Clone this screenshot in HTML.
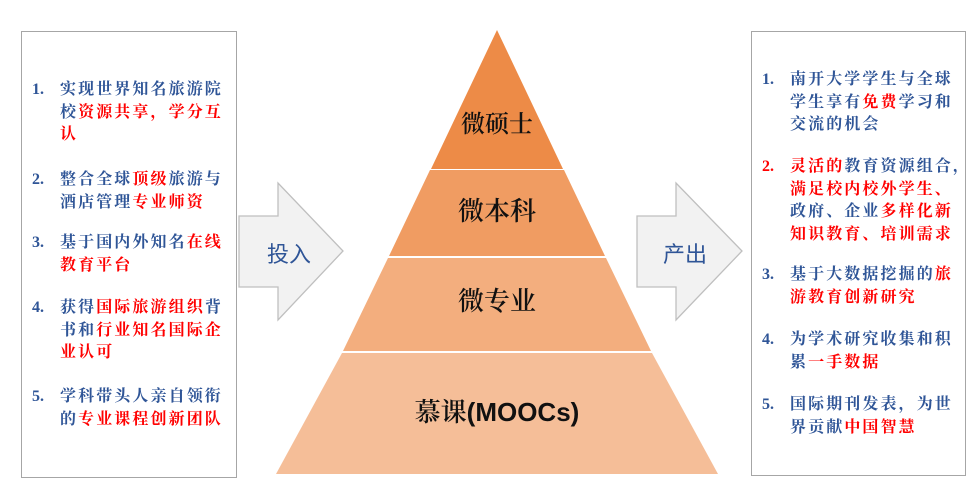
<!DOCTYPE html>
<html><head><meta charset="utf-8"><style>
body{margin:0;width:979px;height:500px;background:#fff;position:relative;overflow:hidden}
.box{position:absolute;border:1px solid #a6a6a6;box-sizing:border-box}
.t{position:absolute;font-family:"Liberation Serif","Noto Serif CJK SC",serif;font-weight:bold;font-size:16px;letter-spacing:2.1px;color:#2F5597;line-height:22.5px;white-space:nowrap}
.r{color:#ff0000}
.n{position:absolute;font-family:"Liberation Serif","Noto Serif CJK SC",serif;font-weight:bold;font-size:16px;color:#2F5597;line-height:22.5px}
.lbl{position:absolute;font-family:"Liberation Serif","Noto Serif CJK SC",serif;font-size:25px;color:#111;text-align:center;width:300px;left:347px;line-height:30px;font-weight:600}
</style></head><body>
<div class="box" style="left:21px;top:31px;width:216px;height:447px"></div>
<div class="box" style="left:751px;top:31px;width:215px;height:445px"></div>
<svg width="979" height="500" style="position:absolute;left:0;top:0">
<polygon points="497,30 563,169 431,169" fill="#ED8B47"/>
<polygon points="430,170 564,170 605,256 389,256" fill="#F09C62"/>
<polygon points="388,258 606,258 651,351 343,351" fill="#F3AE7E"/>
<polygon points="342,353 652,353 718,474 276,474" fill="#F5BE98"/>
<polygon points="239,216 278,216 278,183 343,251 278,320 278,287 239,287" fill="#F2F2F2" stroke="#BFBFBF" stroke-width="1.3"/>
<polygon points="637,216 676,216 676,183 742,251 676,320 676,287 637,287" fill="#F2F2F2" stroke="#BFBFBF" stroke-width="1.3"/>
<text x="289" y="262" font-family="Liberation Sans,Noto Sans CJK SC,sans-serif" font-size="22" fill="#2F5597" text-anchor="middle">投入</text>
<text x="685" y="262" font-family="Liberation Sans,Noto Sans CJK SC,sans-serif" font-size="22" fill="#2F5597" text-anchor="middle">产出</text>
</svg>
<div class="lbl" style="top:110px;font-size:24px">微硕士</div>
<div class="lbl" style="top:197px;font-size:26px">微本科</div>
<div class="lbl" style="top:287px;font-size:26px">微专业</div>
<div class="lbl" style="top:397px;font-size:26px">慕课<span style="font-family:'Liberation Sans',sans-serif;font-weight:bold">(MOOCs)</span></div>

<div class="n" style="left:32px;top:79px">1.</div>
<div class="t" style="left:60px;top:79px">实现世界知名旅游院<br>校<span class="r">资源共享，学分互</span><br><span class="r">认</span></div>
<div class="n" style="left:32px;top:169px">2.</div>
<div class="t" style="left:60px;top:169px">整合全球<span class="r">顶级</span>旅游与<br>酒店管理<span class="r">专业师资</span></div>
<div class="n" style="left:32px;top:232px">3.</div>
<div class="t" style="left:60px;top:232px">基于国内外知名<span class="r">在线</span><br><span class="r">教育平台</span></div>
<div class="n" style="left:32px;top:297px">4.</div>
<div class="t" style="left:60px;top:297px">获得<span class="r">国际旅游组织</span>背<br>书和<span class="r">行业知名国际企</span><br><span class="r">业认可</span></div>
<div class="n" style="left:32px;top:386px">5.</div>
<div class="t" style="left:60px;top:386px">学科带头人亲自领衔<br>的<span class="r">专业课程创新团队</span></div>

<div class="n" style="left:762px;top:69px">1.</div>
<div class="t" style="left:790px;top:69px">南开大学学生与全球<br>学生享有<span class="r">免费</span>学习和<br>交流的机会</div>
<div class="n r" style="left:762px;top:156px;color:#f00">2.</div>
<div class="t" style="left:790px;top:156px"><span class="r">灵活的</span>教育资源组合，<br><span class="r">满足校内校外学生、</span><br>政府、企业<span class="r">多样化新</span><br><span class="r">知识教育、培训需求</span></div>
<div class="n" style="left:762px;top:264px">3.</div>
<div class="t" style="left:790px;top:264px">基于大数据挖掘的<span class="r">旅</span><br><span class="r">游教育创新研究</span></div>
<div class="n" style="left:762px;top:329px">4.</div>
<div class="t" style="left:790px;top:329px">为学术研究收集和积<br>累<span class="r">一手数据</span></div>
<div class="n" style="left:762px;top:394px">5.</div>
<div class="t" style="left:790px;top:394px">国际期刊发表，为世<br>界贡献<span class="r">中国智慧</span></div>
</body></html>
